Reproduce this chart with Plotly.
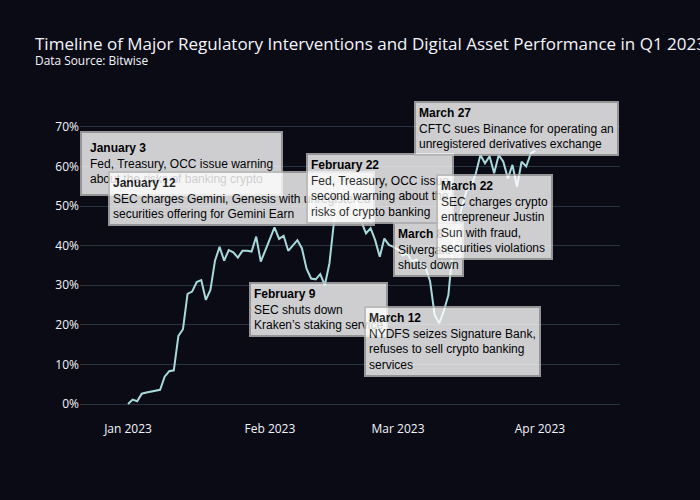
import plotly.graph_objects as go
import pandas as pd

# ---- data ----
start_date = "2023-01-01"
end_date = "2023-03-31"
jan_values = [0, 1.1, 0.7, 2.6, 2.9, 3.1, 3.4, 3.6, 6.9, 8.3, 8.5, 17.2, 18.9, 27.8, 28.4,
              30.8, 31.3, 26.3, 28.8, 36.2, 39.7, 36.2, 38.9, 38.3, 37.0, 38.7, 38.7, 38.5,
              42.3, 36.0, 38.8]
feb_values = [41.5, 44.6, 41.7, 42.5, 38.7, 40.0, 41.4, 39.3, 34.2, 31.7, 31.5, 32.8, 30.0,
              35.5, 46.0, 52.0, 56.0, 53.0, 54.0, 50.0, 46.0, 43.1, 44.4, 41.4, 37.2, 41.8,
              40.2, 39.7]
mar_values = [39.0, 37.5, 38.0, 36.0, 36.5, 35.5, 34.5, 31.0, 22.5, 20.4, 23.5, 27.5, 39.8,
              45.0, 50.0, 54.0, 55.0, 58.3, 62.9, 60.8, 62.6, 58.3, 62.9, 61.2, 57.0, 60.4,
              54.9, 61.2, 60.0, 63.3, 64.0]

event_titles = ["January 3", "January 12", "February 9", "February 22",
                "March 8", "March 12", "March 22", "March 27"]
event_texts = [
    "Fed, Treasury, OCC issue warning<br>about the risks of banking crypto",
    "SEC charges Gemini, Genesis with unregistered<br>securities offering for Gemini Earn",
    "SEC shuts down<br>Kraken’s staking service",
    "Fed, Treasury, OCC issue<br>second warning about the<br>risks of crypto banking",
    "Silvergate<br>shuts down",
    "NYDFS seizes Signature Bank,<br>refuses to sell crypto banking<br>services",
    "SEC charges crypto<br>entrepreneur Justin<br>Sun with fraud,<br>securities violations",
    "CFTC sues Binance for operating an<br>unregistered derivatives exchange",
]

# ---- layout helpers (pixel box positions: left, top, borderpad) ----
box_pos = [(80, 131, 8), (108, 171, 3), (249, 282, 3), (306, 153, 3),
           (393, 222, 3), (364, 306, 3), (436, 174, 3), (414, 101, 3)]
PL, PR, PT, PB = 80, 620, 100, 420

dates = pd.date_range(start_date, end_date, freq="D")
values = jan_values + feb_values + mar_values

BG = "rgb(11,11,22)"

fig = go.Figure()
fig.add_trace(go.Scatter(x=dates, y=values, mode="lines",
                         line=dict(color="#A8DADC", width=2),
                         showlegend=False))

annotations = []
for t, txt, (lx, ty, bp) in zip(event_titles, event_texts, box_pos):
    annotations.append(dict(
        text=f"<b>{t}</b><br>{txt}",
        xref="paper", yref="paper",
        x=(lx - PL) / (PR - PL), y=(PB - ty) / (PB - PT),
        xanchor="left", yanchor="top",
        showarrow=False, align="left",
        font=dict(family="Arial", size=12, color="black"),
        bgcolor="white", bordercolor="#b8b8b8", borderwidth=2, borderpad=bp,
        opacity=0.8,
    ))

fig.update_layout(
    template="plotly_dark",
    width=700, height=500,
    margin=dict(l=80, r=80, t=100, b=80),
    paper_bgcolor=BG, plot_bgcolor=BG,
    title=dict(text="Timeline of Major Regulatory Interventions and Digital Asset Performance in Q1 2023"
                    "<br><sup>Data Source: Bitwise</sup>",
               x=0.05, font=dict(size=17, color="#f2f5fa")),
    annotations=annotations,
    xaxis=dict(range=["2022-12-21 12:00", "2023-04-18 12:00"], showgrid=False,
               dtick="M1", tickformat="%b %Y", zeroline=False),
    yaxis=dict(range=[-4.04, 76.8], dtick=10, ticksuffix="%",
               gridcolor="#283442", zeroline=False),
)

fig.write_html("out.html", config={"displayModeBar": False},
               post_script="document.body.style.margin='0';document.body.style.background='" + BG + "';")
